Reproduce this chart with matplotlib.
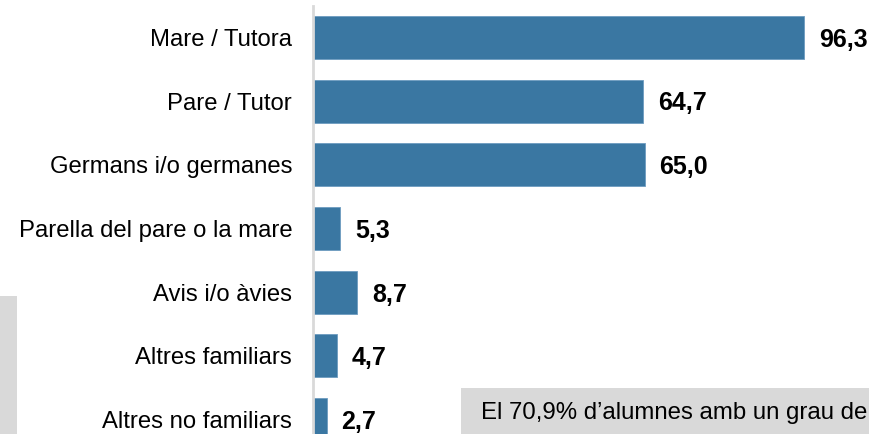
import matplotlib.pyplot as plt
from matplotlib.patches import Rectangle

plt.rcParams['font.family'] = ['Liberation Sans', 'DejaVu Sans']

categories = ['Mare / Tutora', 'Pare / Tutor', 'Germans i/o germanes',
              'Parella del pare o la mare', 'Avis i/o àvies',
              'Altres familiars', 'Altres no familiars']
values = [96.3, 64.7, 65.0, 5.3, 8.7, 4.7, 2.7]
value_labels = ['96,3', '64,7', '65,0', '5,3', '8,7', '4,7', '2,7']
note_text = 'El 70,9% d\u2019alumnes amb un grau de'

W, H = 870, 434
fig = plt.figure(figsize=(W / 100, H / 100), dpi=100)

# axes placed in pixel terms: left spine at x=313, top at y=6
ax = fig.add_axes([313 / W, 0, 1 - 313 / W, 1 - 6 / H])

y = list(range(len(categories)))
ax.barh(y, values, height=0.675, color='#3a77a2', edgecolor='#6d9cc0',
        linewidth=0.6, zorder=2)

# value labels sit a touch below the bar centre
for yi, v, lab in zip(y, values, value_labels):
    ax.text(v + 2.9, yi + 0.035, lab, va='center', ha='left', fontsize=18,
            fontweight='bold', color='black')

ax.set_yticks(y)
ax.set_yticklabels(categories, fontsize=17.2)
ax.tick_params(axis='y', length=0, pad=15)
ax.set_xticks([])
ax.set_xlim(0, 109.2)
ax.set_ylim(6.225, -0.495)

for side in ['top', 'right', 'bottom']:
    ax.spines[side].set_visible(False)
ax.spines['left'].set_color('#d9d9d9')
ax.spines['left'].set_linewidth(2)

# grey boxes from the surrounding layout
fig.patches.append(Rectangle((0, 0), 17 / W, (H - 296) / H, transform=fig.transFigure,
                             facecolor='#d9d9d9', edgecolor='none', zorder=0))
fig.patches.append(Rectangle((461 / W, 0), (W - 461) / W, (H - 388) / H,
                             transform=fig.transFigure, facecolor='#d9d9d9',
                             edgecolor='none', zorder=3))
fig.text(481 / W, 1 - 413 / H, note_text, fontsize=17.3, va='center', ha='left',
         color='black', zorder=4)

fig.savefig('out.png', dpi=100)
